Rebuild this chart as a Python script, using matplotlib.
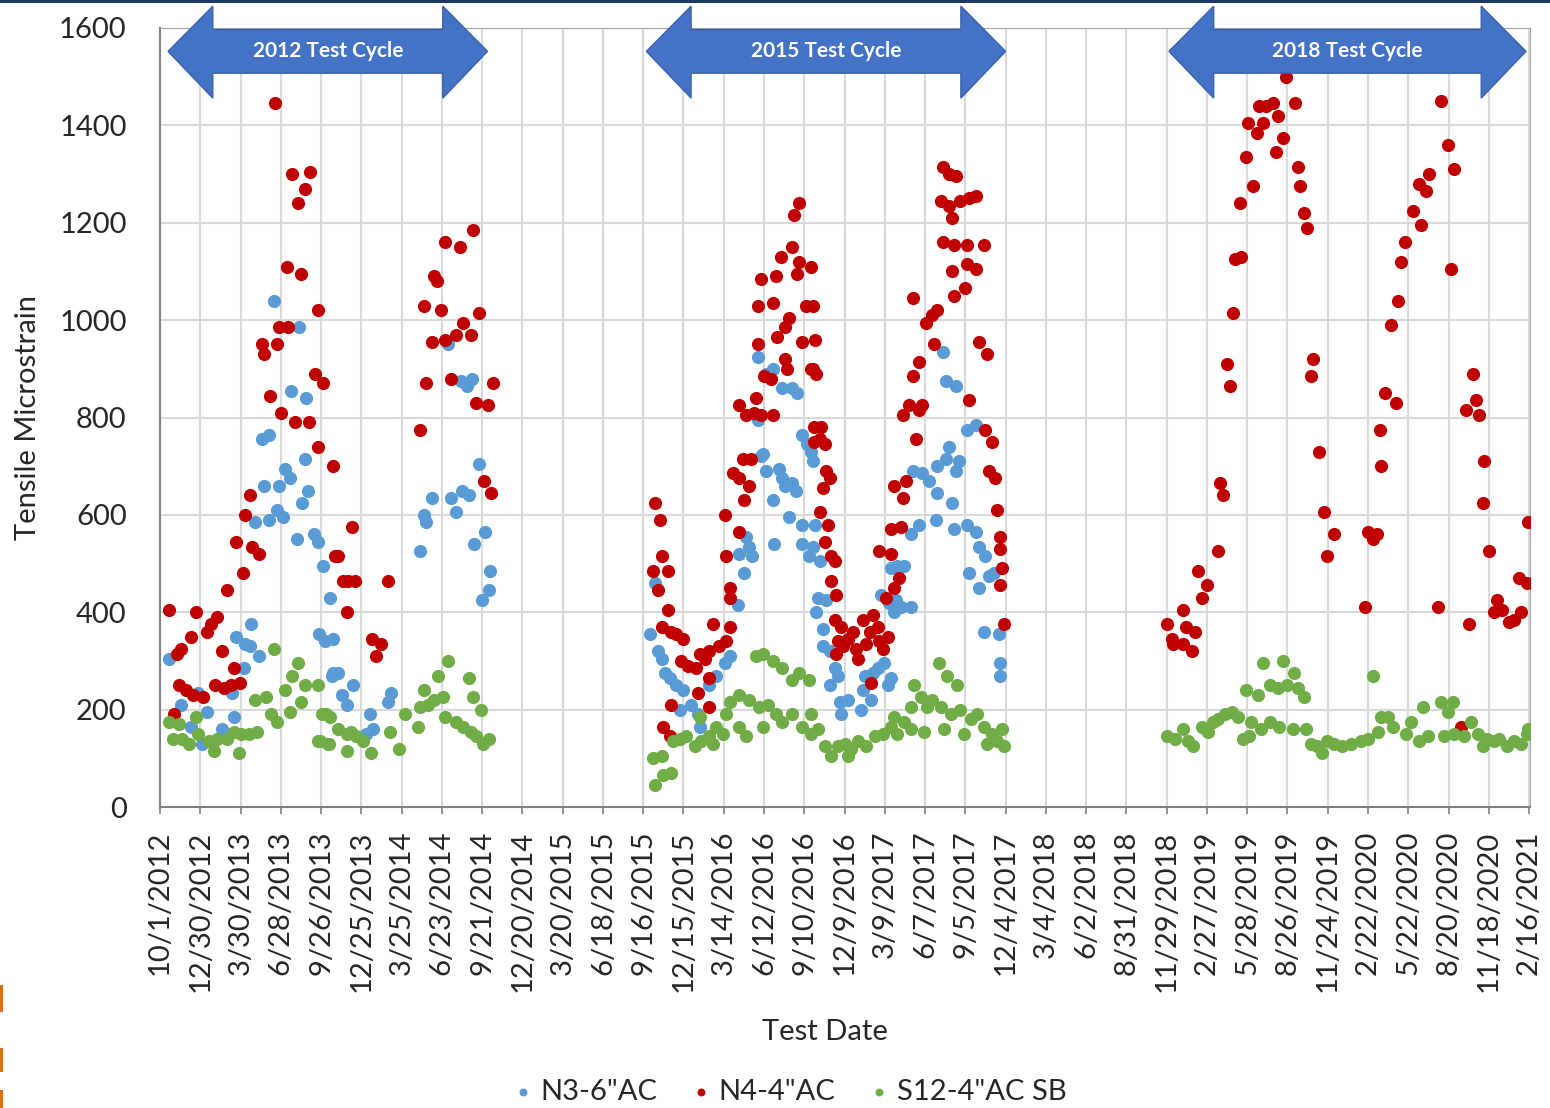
import numpy as np
import pandas as pd
import matplotlib
matplotlib.use("Agg")
import matplotlib.pyplot as plt
import matplotlib.dates as mdates
import matplotlib.transforms as mtransforms
from matplotlib.patches import Polygon, Rectangle

plt.rcParams['font.family'] = ['Lato', 'DejaVu Sans']

START = np.datetime64('2012-10-01')

# days since 10/1/2012, tensile microstrain
n3_days = [254, 310, 293, 327, 228, 243, 280, 291, 325, 267, 232, 331, 317, 212, 243, 262, 274, 306,
           345, 354, 365, 380, 170, 204, 190, 201, 221, 188, 21, 356, 369, 384, 84, 47, 106, 69, 93,
           139, 165, 162,
           387, 387, 398, 406, 417, 432, 469, 476, 461, 509, 517,
           580, 591, 595, 609, 650, 661, 676, 690, 643, 672, 687, 698, 712, 701, 727, 738, 735, 720,
           1095, 1106, 1113, 1121, 1128, 1139, 1154, 1169, 1162, 1187, 1202, 1206, 1228, 1243, 1262,
           1273, 1291, 1306, 1295, 1317, 1324, 1310,
           1343, 1336, 1347, 1354, 1369, 1384, 1391, 1398, 1413, 1421, 1406, 1373, 1436, 1436, 1451,
           1336, 1354, 1369, 1391, 1413, 1424, 1436, 1447, 1454,
           1460, 1463, 1460, 1475, 1471, 1489, 1467, 1482, 1482, 1497, 1508, 1497, 1515, 1519, 1523,
           1537, 1567, 1589, 1571, 1593, 1575, 1604, 1619, 1626, 1634, 1611, 1630, 1645, 1656, 1641,
           1678, 1634, 1648, 1663, 1678, 1697, 1682, 1704, 1719, 1737, 1756, 1763, 1778, 1737, 1771,
           1734, 1775, 1804, 1823, 1830, 1845, 1808, 1830, 1852, 1863, 1749, 1756, 1778, 1804, 1823,
           1786, 1841, 1875, 1878, 1878]
n3_vals = [1040, 985, 855, 840, 755, 765, 695, 675, 715, 660, 660, 650, 625, 585, 590, 610, 595, 550,
           560, 545, 495, 430, 350, 375, 335, 330, 310, 285, 305, 355, 340, 270, 235, 210, 195, 165, 130,
           160, 185, 235,
           345, 275, 275, 230, 210, 250, 190, 160, 150, 215, 235,
           525, 600, 585, 635, 635, 605, 650, 640, 950, 875, 865, 880, 705, 540, 565, 485, 445, 425,
           355, 460, 320, 305, 275, 265, 250, 240, 200, 210, 190, 165, 250, 270, 295,
           310, 415, 480, 520, 535, 515, 555,
           720, 795, 725, 690, 630, 695, 675, 660, 665, 650, 595, 540, 580, 540, 515,
           925, 890, 900, 860, 860, 850, 765, 745, 730,
           710, 580, 535, 505, 430, 425, 400, 365, 330, 320, 285, 250, 270, 215, 190,
           220, 200, 220, 240, 275, 270, 285, 295, 250, 265, 435, 420, 425, 410, 400,
           410, 490, 495, 495, 560, 580, 690, 685, 670, 700, 715, 740, 690, 645, 625,
           590, 570, 580, 565, 535, 515, 480, 450, 475, 480, 935, 875, 865, 775, 785,
           710, 360, 355, 295, 270]

n4_days = [21, 39, 47, 69, 80, 106, 113, 128, 139, 165, 178, 43, 58, 73, 95, 124, 143, 158, 32,
           150, 169, 185, 190, 202, 205, 221, 245, 227, 232, 262, 267, 287, 271, 302, 332, 354, 387,
           284, 315, 353, 347, 365, 391, 295, 336, 325, 308, 256,
           429, 398, 408, 420, 435, 417, 509, 474, 495, 482,
           580, 595, 590, 613, 619, 628, 609, 636, 638, 670, 700, 661, 677, 694, 712, 651, 706, 732,
           745, 724, 740,
           1106, 1117, 1121, 1102, 1136, 1113, 1136, 1121, 1143, 1154, 1169, 1143, 1124, 1139, 1165,
           1180, 1199, 1206, 1217, 1228, 1236, 1250, 1265, 1273, 1228, 1202, 1228,
           1262, 1265, 1274, 1274, 1295, 1280, 1295, 1306, 1317, 1302, 1321, 1295, 1310, 1328, 1332,
           1343, 1369, 1336, 1351, 1366, 1343, 1336, 1369, 1376, 1387, 1380, 1398, 1406, 1398, 1402,
           1413, 1424, 1417, 1428, 1428, 1443, 1436, 1454, 1462, 1462,
           1456, 1460, 1463, 1460, 1467, 1478, 1475, 1486, 1489, 1497, 1482, 1475, 1493, 1486, 1500,
           1508, 1500, 1512, 1508, 1523, 1515, 1527, 1512, 1537, 1549, 1556, 1560, 1571, 1578, 1586,
           1593, 1604, 1608, 1589, 1615, 1623, 1626, 1608, 1634, 1656, 1634, 1641, 1652, 1641, 1660,
           1667, 1660, 1674, 1697, 1704, 1689, 1682, 1697, 1682, 1711, 1726, 1737, 1730, 1749, 1763,
           1778, 1745, 1763, 1789, 1808, 1823, 1771, 1749, 1775, 1804, 1841, 1771, 1804, 1823, 1775,
           1800, 1830, 1849, 1808, 1845, 1860, 1852, 1867, 1871, 1878, 1878, 1882, 1878, 1886,
           2250, 2261, 2265, 2287, 2294, 2313, 2306, 2287, 2320, 2328, 2339, 2365, 2369, 2376, 2384,
           2391, 2399, 2402, 2417, 2413, 2428, 2443, 2432, 2452, 2465, 2457, 2472, 2487, 2498, 2494,
           2509, 2517, 2537, 2543, 2549, 2557, 2563, 2577, 2572, 2591, 2602, 2623, 2608,
           2693, 2700, 2711, 2719, 2726, 2730, 2737, 2763, 2752, 2767, 2774, 2782, 2800, 2819, 2813,
           2830, 2837, 2863, 2878, 2893, 2885, 2856, 2908, 2926, 2919, 2934, 2941, 2948, 2959, 2956,
           2970, 2989, 2982, 3000, 3015, 3026, 3041, 3037, 3056, 3058]
n4_vals = [405, 315, 325, 350, 400, 360, 375, 390, 320, 285, 255, 250, 240, 230, 225, 250, 245, 250, 190,
           445, 545, 480, 600, 640, 535, 520, 845, 950, 930, 950, 985, 985, 810, 790, 790, 740, 700,
           1110, 1095, 1020, 890, 870, 515, 1300, 1305, 1270, 1240, 1445,
           575, 515, 465, 465, 465, 400, 465, 345, 335, 310,
           775, 870, 1030, 1090, 1080, 1020, 955, 960, 1160, 1150, 1185, 970, 995, 970, 1015, 880, 830, 825,
           870, 670, 645,
           625, 590, 515, 485, 485, 445, 405, 370, 360, 355, 345, 210, 165, 145, 300,
           290, 285, 315, 305, 320, 375, 330, 340, 370, 265, 235, 205,
           600, 515, 450, 430, 565, 685, 675, 630, 660, 715, 715, 825, 805, 810, 840,
           805, 805, 950, 885, 880, 1085, 1030, 1035, 1090, 1130, 965, 985, 1005, 920, 900,
           1150, 1095, 1215, 1240, 1120, 1030, 955, 900, 780, 750,
           1110, 1030, 960, 900, 890, 780, 755, 745, 690, 675, 655, 605, 580, 545, 515,
           505, 465, 435, 385, 370, 340, 330, 315, 345, 360, 325, 305, 385, 335, 360,
           395, 370, 340, 255, 325, 430, 350, 525, 570, 575, 520, 450, 470, 660, 635,
           670, 805, 825, 815, 825, 755, 885, 915, 1045, 995, 1010, 1020, 950, 1315, 1300,
           1295, 1245, 1235, 1245, 1250, 1255, 1210, 1160, 1155, 1155, 1155, 1100, 1115, 1105, 1050,
           1065, 955, 930, 835, 775, 750, 690, 675, 610, 555, 530, 490, 455, 375,
           375, 345, 335, 405, 370, 360, 320, 335, 485, 430, 455, 525, 665, 640, 910,
           865, 1015, 1125, 1130, 1240, 1335, 1275, 1405, 1385, 1405, 1440, 1440, 1445, 1420, 1345,
           1375, 1500, 1445, 1315, 1275, 1220, 1190, 920, 885, 730, 605, 560, 515,
           410, 565, 550, 560, 775, 700, 850, 830, 990, 1040, 1120, 1160, 1225, 1195, 1280,
           1265, 1300, 1450, 1360, 1310, 1105, 410, 165, 375, 815, 890, 835, 805, 710, 625,
           525, 425, 400, 405, 380, 385, 400, 470, 460, 585]

s12_days = [254, 308, 295, 280, 325, 353, 213, 236, 315, 362, 380, 247, 262, 291, 21, 43, 30, 50, 65,
            84, 110, 121, 150, 176, 180, 199, 217, 165, 354, 376, 128, 80,
            370, 358, 377, 398, 417, 428, 439, 417, 454, 472, 513, 535, 547, 576, 580, 591, 599, 613,
            632, 621, 643, 636, 661, 677, 690, 699, 695, 706, 717, 721, 736,
            1102, 1121, 1106, 1124, 1143, 1147, 1162, 1176, 1195, 1210, 1228, 1243, 1265, 1273, 1295,
            1317, 1339, 1358, 1376, 1391, 1413, 1436, 1454, 1332, 1347, 1369, 1391, 1413, 1428, 1451,
            1206, 1236, 1258, 1295, 1310, 1347,
            1471, 1486, 1500, 1515, 1530, 1545, 1560, 1578, 1597, 1615, 1634, 1648, 1663, 1678, 1685,
            1700, 1715, 1726, 1741, 1760, 1782, 1745, 1767, 1789, 1812, 1826, 1841, 1860, 1871, 1886,
            1882, 1641, 1537, 1678, 1708, 1752, 1797, 1849, 1456,
            2250, 2268, 2287, 2298, 2309, 2328, 2343, 2354, 2365, 2380, 2395, 2410, 2420, 2435, 2428,
            2454, 2465, 2480, 2498, 2509, 2520, 2535, 2543, 2557, 2461, 2480, 2502, 2532, 2561, 2572,
            2587, 2598, 2609, 2624, 2439,
            2641, 2663, 2685, 2700, 2722, 2730, 2745, 2756, 2785, 2796, 2815, 2833, 2822, 2863, 2878,
            2889, 2870, 2893, 2915, 2930, 2945, 2956, 2967, 2982, 2993, 3011, 3026, 3041, 3056, 3058,
            2710]
s12_vals = [325, 295, 270, 240, 250, 250, 220, 225, 215, 190, 185, 190, 175, 195, 175, 170, 140, 140, 130,
            150, 135, 115, 140, 110, 150, 150, 155, 155, 135, 130, 140, 185,
            190, 135, 130, 160, 150, 155, 145, 115, 135, 110, 155, 120, 190, 165, 205, 240, 210, 220,
            225, 270, 300, 185, 175, 165, 265, 225, 155, 145, 200, 130, 140,
            100, 105, 45, 65, 70, 135, 140, 145, 125, 135, 145, 165, 190, 215, 230,
            220, 205, 210, 190, 175, 190, 165, 150, 310, 315, 300, 285, 260, 275, 260,
            185, 130, 150, 165, 145, 165,
            160, 125, 105, 125, 130, 120, 135, 125, 145, 150, 165, 150, 175, 205, 250,
            225, 205, 220, 295, 270, 250, 205, 190, 200, 180, 190, 165, 150, 135, 125,
            160, 185, 105, 160, 155, 160, 150, 130, 190,
            145, 140, 160, 135, 125, 165, 155, 175, 180, 190, 195, 185, 140, 145, 240,
            230, 295, 250, 245, 300, 250, 275, 245, 225, 160, 175, 165, 160, 160, 130,
            125, 110, 135, 130, 175,
            125, 130, 135, 140, 155, 185, 185, 165, 150, 175, 135, 145, 205, 215, 195,
            215, 145, 150, 145, 175, 150, 125, 140, 135, 140, 125, 135, 130, 150, 160,
            270]

series = [("N3-6\"AC", n3_days, n3_vals, "#5B9BD5"),
          ("N4-4\"AC", n4_days, n4_vals, "#C00000"),
          ("S12-4\"AC SB", s12_days, s12_vals, "#70AD47")]

cycles = [("2012 Test Cycle", 18, 732),
          ("2015 Test Cycle", 1087, 1890),
          ("2018 Test Cycle", 2255, 3053)]

tick_dates = pd.date_range("2012-10-01", "2021-02-16", freq="90D")


def to_dates(days):
    return START + np.array(days, dtype="timedelta64[D]")


def draw_cycle_arrow(ax, label, d0, d1, head=100):
    """Double-headed block arrow above the plot, x in dates, y in axes fraction."""
    x0 = mdates.date2num(to_dates([d0])[0])
    x1 = mdates.date2num(to_dates([d1])[0])
    xh = mdates.date2num(to_dates([d0 + head])[0])
    xt = mdates.date2num(to_dates([d1 - head])[0])
    ym, ht, hb, st, sb = 0.970, 1.028, 0.910, 0.998, 0.942
    verts = [(x0, ym), (xh, ht), (xh, st), (xt, st), (xt, ht), (x1, ym),
             (xt, hb), (xt, sb), (xh, sb), (xh, hb)]
    trans = mtransforms.blended_transform_factory(ax.transData, ax.transAxes)
    ax.add_patch(Polygon(verts, closed=True, transform=trans, facecolor="#4472C4",
                         edgecolor="#3A62AC", linewidth=1, clip_on=False, zorder=5))
    ax.text((x0 + x1) / 2, ym, label, transform=trans, ha="center", va="center",
            color="white", fontsize=15, fontweight="bold", zorder=6, clip_on=False)


fig = plt.figure(figsize=(15.5, 11.08), dpi=100)
ax = fig.add_axes([160 / 1550, 1 - 807 / 1108, 1370 / 1550, 779 / 1108])

for name, days, vals, color in series:
    ax.scatter(to_dates(days), vals, s=90, color=color, label=name, zorder=3, linewidths=0)

ax.set_ylim(0, 1600)
ax.set_yticks(np.arange(0, 1601, 200))
ax.set_xlim(to_dates([0])[0], to_dates([3062])[0])
ax.set_xticks(tick_dates)
ax.set_xticklabels([f"{d.month}/{d.day}/{d.year}" for d in tick_dates], rotation=90)

ax.grid(True, color="#D9D9D9", linewidth=1.5, zorder=0)
ax.set_axisbelow(True)
for side in ["top", "right"]:
    ax.spines[side].set_color("#A6A6A6")
for side in ["left", "bottom"]:
    ax.spines[side].set_color("#808080")
    ax.spines[side].set_linewidth(1.5)
ax.tick_params(axis="y", length=0, pad=24, labelsize=21, labelcolor="#262626")
ax.tick_params(axis="x", length=5, width=1.2, color="#808080", pad=12, labelsize=21,
               labelcolor="#262626")

for label, d0, d1 in cycles:
    draw_cycle_arrow(ax, label, d0, d1)

fig.text(28 / 1550, 1 - 418 / 1108, "Tensile Microstrain", rotation=90, ha="center",
         va="center", fontsize=21, color="#262626")
fig.text(825 / 1550, 1 - 1032 / 1108, "Test Date", ha="center", va="center", fontsize=21,
         color="#262626")

fig.legend(loc="center", bbox_to_anchor=(786 / 1550, 1 - 1092 / 1108), ncol=3, frameon=False,
           fontsize=21, markerscale=0.6, handletextpad=0.0, columnspacing=0.9,
           handlelength=1.2, labelcolor="#262626")

# page decorations from the source screenshot
fig.add_artist(Rectangle((0, 1 - 3 / 1108), 1, 3 / 1108, transform=fig.transFigure,
                         color="#1F3864", linewidth=0))
for y0, y1 in [(985, 1012), (1048, 1072), (1090, 1108)]:
    fig.add_artist(Rectangle((0, 1 - y1 / 1108), 3 / 1550, (y1 - y0) / 1108,
                             transform=fig.transFigure, color="#E46C0A", linewidth=0))

fig.savefig("out.png", dpi=100)
